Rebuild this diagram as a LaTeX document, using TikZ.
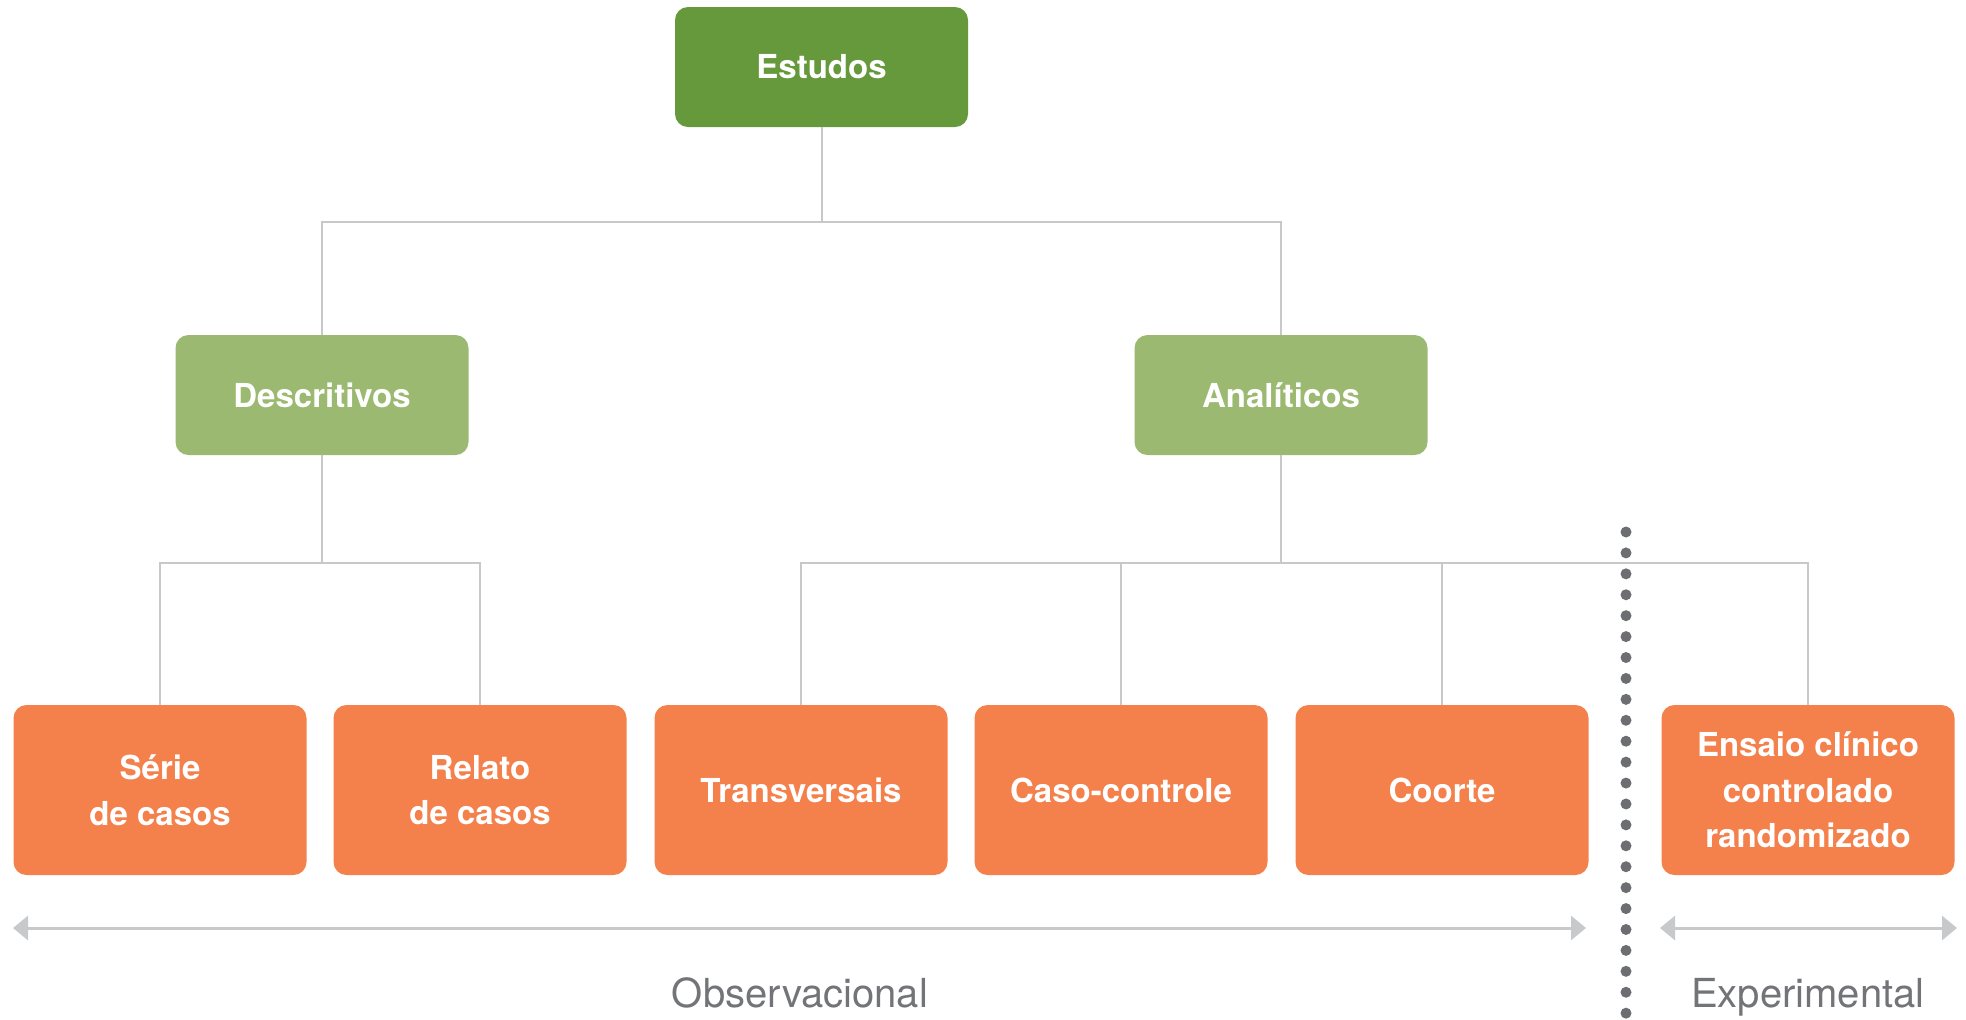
\documentclass[tikz,border=0pt]{standalone}
\usepackage{fontspec}
\setmainfont{TeX Gyre Heros}
\usetikzlibrary{arrows.meta}

\definecolor{verdeescuro}{HTML}{66993B}
\definecolor{verdeclaro}{HTML}{9BB970}
\definecolor{laranja}{HTML}{F4804C}
\definecolor{cinzalinha}{HTML}{C8C8C8}
\definecolor{cinzaseta}{HTML}{C8C9CB}
\definecolor{cinzaponto}{HTML}{6D6E71}
\definecolor{cinzatexto}{HTML}{737478}

\begin{document}
\begin{tikzpicture}[x=0.5pt,y=-0.5pt,
  caixa/.style={rectangle, rounded corners=6.5pt, minimum width=146.5pt, inner sep=0pt,
    align=center, text=white, font=\fontsize{16.5}{22.75}\selectfont\bfseries},
  nivel/.style={caixa, minimum height=60pt},
  folha/.style={caixa, fill=laranja, minimum height=85pt},
  ligacao/.style={draw=cinzalinha, line width=1pt},
  seta/.style={cinzaseta, line width=1.5pt,
    {Triangle[length=7.5pt,width=12pt]}-{Triangle[length=7.5pt,width=12pt]}},
  pontilhado/.style={cinzaponto, line width=5.5pt, line cap=round, dash pattern=on 0pt off 10.46pt},
  rotulo/.style={text=cinzatexto, font=\fontsize{20}{24}\selectfont, anchor=base}]
\useasboundingbox (0,0) rectangle (1966,1019);

\node[nivel, fill=verdeescuro] (est) at (821.5,67) {Estudos};

\node[nivel, fill=verdeclaro] (desc) at (322,395) {Descritivos};

\node[nivel, fill=verdeclaro] (anal) at (1281,395) {Analíticos};

\node[folha] (serie) at (160,790) {Série\\de casos};

\node[folha] (relato) at (480,790) {Relato\\de casos};

\node[folha] (transv) at (801,790) {Transversais};

\node[folha] (caso) at (1121,790) {Caso-controle};

\node[folha] (coorte) at (1442,790) {Coorte};

\node[folha] (ensaio) at (1808,790) {Ensaio clínico\\controlado\\randomizado};

% ligacoes
\coordinate (j1) at (est.south |- 0,222);
\coordinate (j2) at (desc.south |- 0,563);
\coordinate (j3) at (anal.south |- 0,563);

\draw[ligacao] (est.south) -- (j1);
\draw[ligacao] (desc.north) |- (j1) -| (anal.north);

\draw[ligacao] (desc.south) -- (j2);
\draw[ligacao] (serie.north) |- (j2) -| (relato.north);

\draw[ligacao] (anal.south) -- (j3);
\draw[ligacao] (transv.north) |- (j3) -| (ensaio.north);
\draw[ligacao] (caso.north) -- (caso.north |- j3);
\draw[ligacao] (coorte.north) -- (coorte.north |- j3);

% divisao
\draw[pontilhado] (1626,532) -- (1626,1015);

\draw[seta] (13,928) -- (1586,928);
\draw[seta] (1660,928) -- (1957,928);

\node[rotulo] (obs) at (800,1007) {Observacional};
\node[rotulo] (exp) at (1808,1007) {Experimental};
\end{tikzpicture}
\end{document}
